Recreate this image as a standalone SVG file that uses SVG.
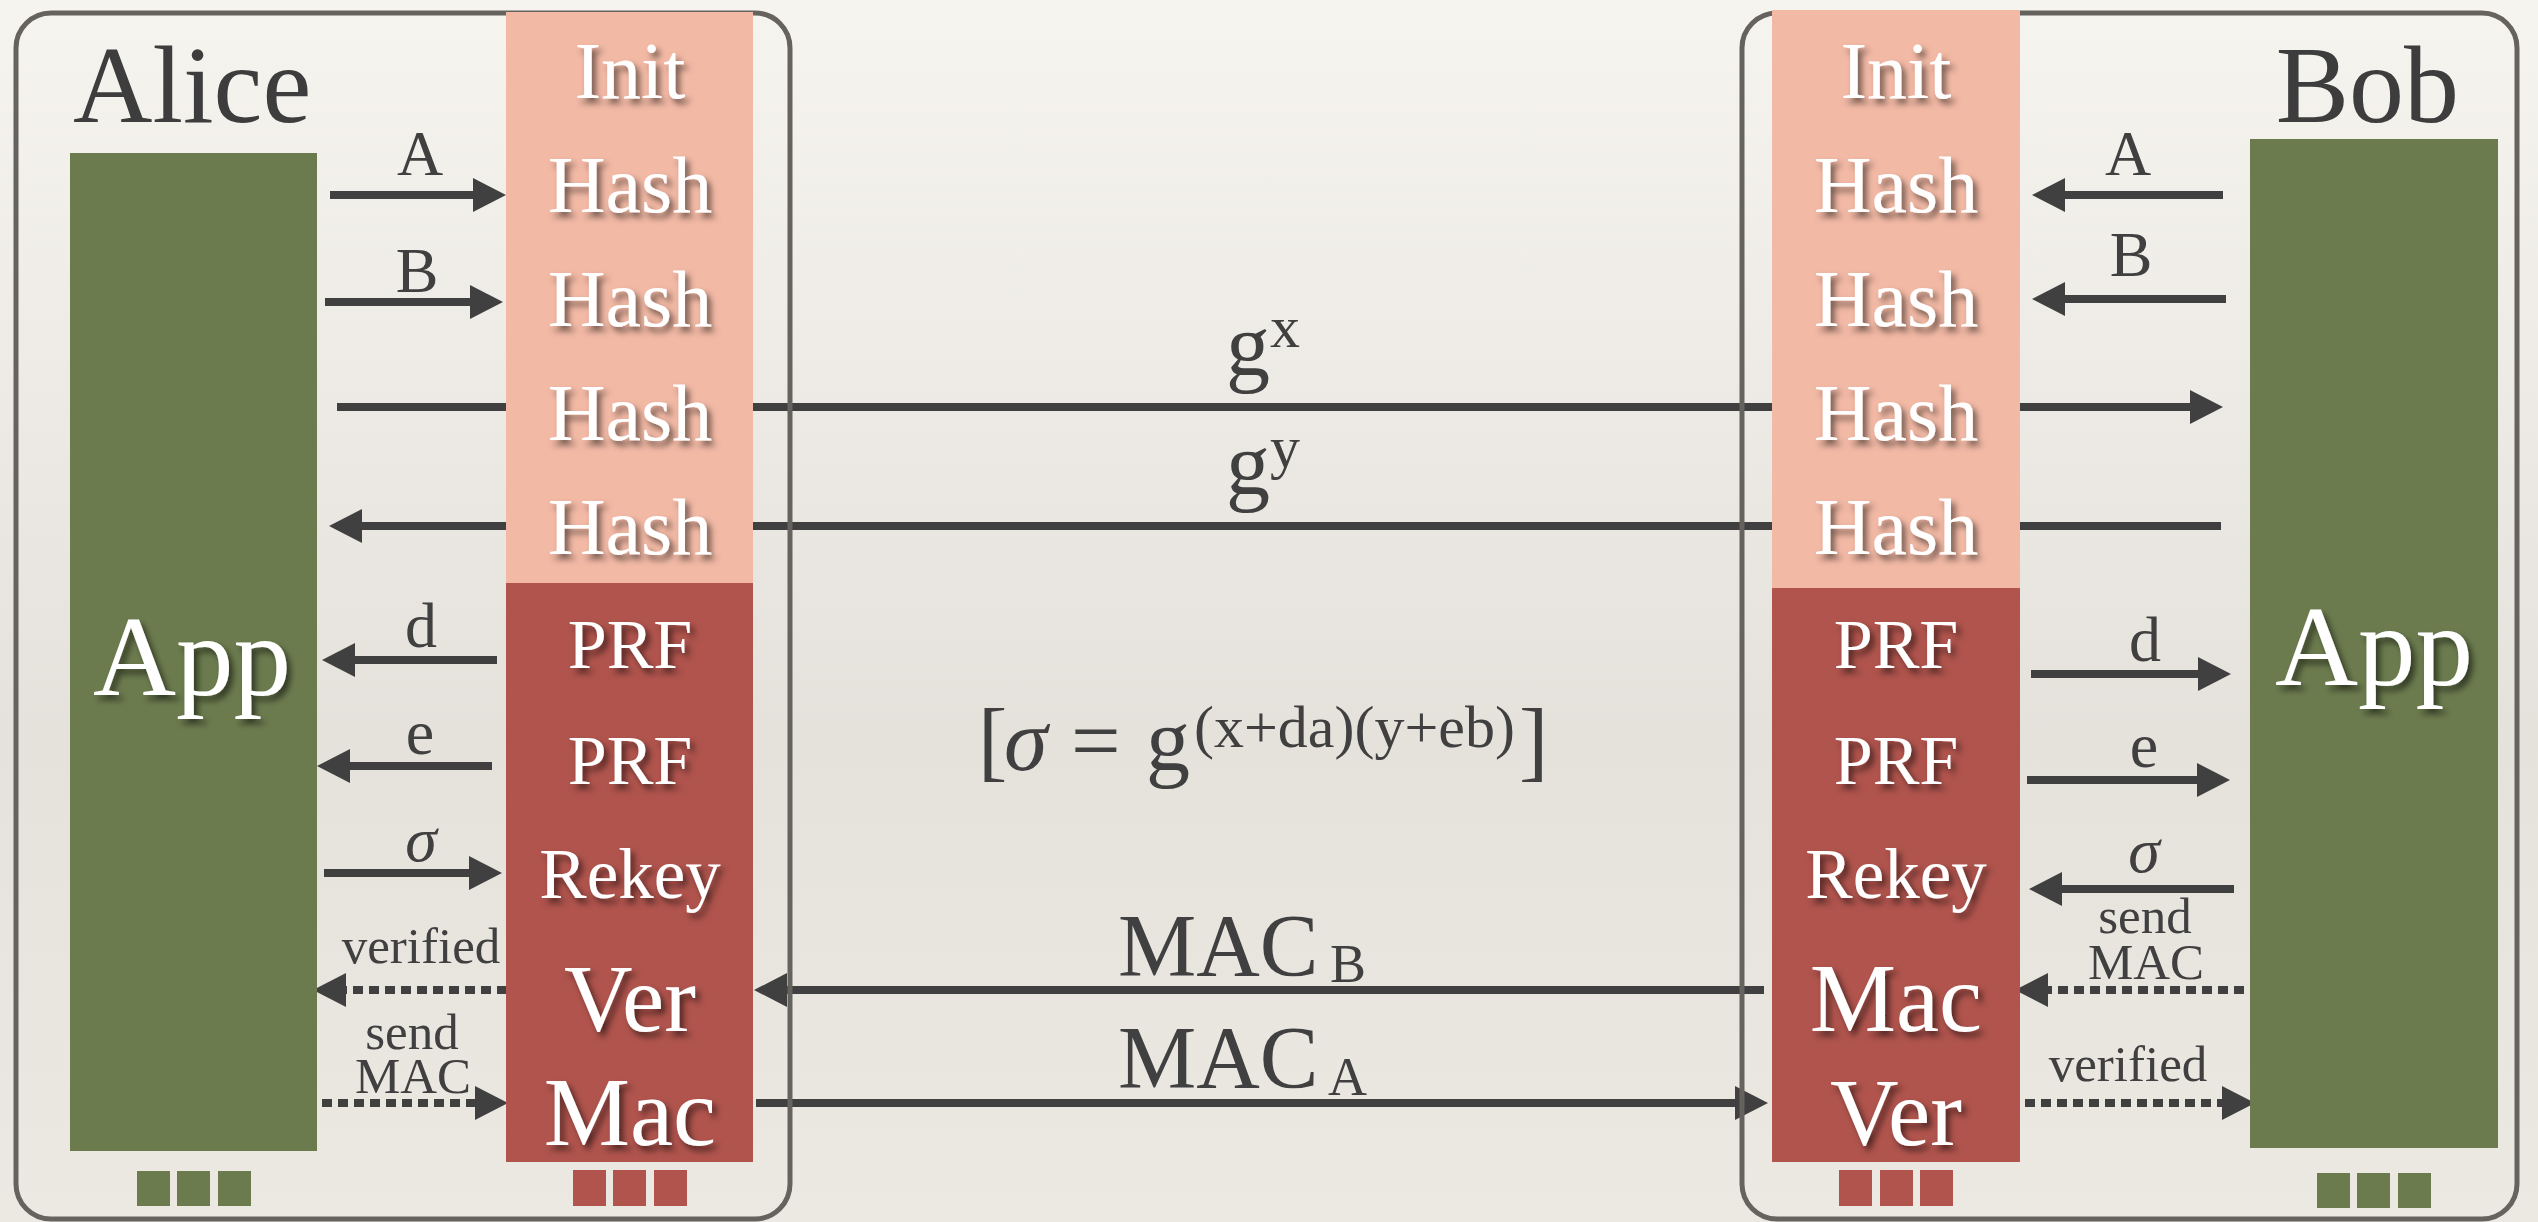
<svg xmlns="http://www.w3.org/2000/svg" width="2538" height="1222" viewBox="0 0 2538 1222" font-family="'Liberation Serif', 'DejaVu Serif', serif">
<defs>
<linearGradient id="bg" x1="0" y1="0" x2="0" y2="1">
<stop offset="0" stop-color="#f6f4ef"/>
<stop offset="0.6" stop-color="#e5e2dc"/>
<stop offset="1" stop-color="#ece9e3"/>
</linearGradient>
<filter id="sh" x="-20%" y="-20%" width="150%" height="150%">
<feDropShadow dx="4" dy="5" stdDeviation="3" flood-color="#000" flood-opacity="0.55"/>
</filter>
<marker id="ah" markerUnits="userSpaceOnUse" markerWidth="34" markerHeight="34" viewBox="0 0 34 34" refX="17" refY="17" orient="auto">
<path d="M0,0 L33,17 L0,34 Z" fill="#404040"/>
</marker>
<style>
.ln{stroke:#404040;stroke-width:8;fill:none;marker-end:url(#ah)}
.dt{stroke:#404040;stroke-width:8;fill:none;stroke-dasharray:10 6;marker-end:url(#ah)}
.frame{fill:none;stroke:#66635e;stroke-width:5}
.pink{fill:#f2b9a5}
.red{fill:#b0544d}
.green{fill:#6b7b4e}
.wt{fill:#ffffff;text-anchor:middle;filter:url(#sh)}
.lbl{fill:#404040;text-anchor:middle;font-size:64px}
.sm{fill:#404040;text-anchor:middle;font-size:51px}
.math{fill:#404040;font-size:88px}
.title{fill:#3d3d3d;font-size:110px}
</style>
</defs>
<rect x="0" y="0" width="2538" height="1222" fill="url(#bg)"/>

<g id="connectors">
<line class="ln" x1="330" y1="195" x2="490" y2="195"/>
<line class="ln" x1="325" y1="302" x2="487" y2="302"/>
<line class="ln" x1="497" y1="660" x2="338" y2="660"/>
<line class="ln" x1="492" y1="766" x2="333" y2="766"/>
<line class="ln" x1="324" y1="873" x2="486" y2="873"/>
<line class="dt" x1="507" y1="990" x2="329" y2="990"/>
<line class="dt" x1="322" y1="1103" x2="492" y2="1103"/>
<line class="ln" x1="337" y1="407" x2="2207" y2="407"/>
<line class="ln" x1="2221" y1="526" x2="345" y2="526"/>
<line class="ln" x1="1764" y1="990" x2="770" y2="990"/>
<line class="ln" x1="756" y1="1103" x2="1752" y2="1103"/>
<line class="ln" x1="2223" y1="195" x2="2048" y2="195"/>
<line class="ln" x1="2226" y1="299" x2="2048" y2="299"/>
<line class="ln" x1="2031" y1="674" x2="2215" y2="674"/>
<line class="ln" x1="2027" y1="780" x2="2214" y2="780"/>
<line class="ln" x1="2234" y1="889" x2="2045" y2="889"/>
<line class="dt" x1="2244" y1="990" x2="2031" y2="990"/>
<line class="dt" x1="2025" y1="1103" x2="2239" y2="1103"/>
</g>

<g id="connector-labels">
<text class="lbl" x="420" y="175">A</text>
<text class="lbl" x="417" y="292">B</text>
<text class="lbl" x="421" y="647">d</text>
<text class="lbl" x="420" y="754">e</text>
<text class="lbl" x="421" y="861" font-style="italic" font-size="70">σ</text>
<text class="sm" x="421" y="963">verified</text>
<text class="sm" x="412" y="1049">send</text>
<text class="sm" x="413" y="1093">MAC</text>
<text class="lbl" x="2128" y="175">A</text>
<text class="lbl" x="2131" y="276">B</text>
<text class="lbl" x="2145" y="661">d</text>
<text class="lbl" x="2144" y="767">e</text>
<text class="lbl" x="2144" y="872" font-style="italic" font-size="70">σ</text>
<text class="sm" x="2145" y="933">send</text>
<text class="sm" x="2146" y="979">MAC</text>
<text class="sm" x="2128" y="1081">verified</text>
<text class="math" x="1226" y="375">g<tspan font-size="60" dy="-28">x</tspan></text>
<text class="math" x="1226" y="494">g<tspan font-size="60" dy="-27">y</tspan></text>
<text class="math" x="1118" y="975" font-size="91">MAC<tspan x="1330" y="982" font-size="54">B</tspan></text>
<text class="math" x="1118" y="1087" font-size="91">MAC<tspan x="1328" y="1095" font-size="54">A</tspan></text>
<text class="math" y="770" font-size="90"><tspan x="978">[</tspan><tspan x="1004" font-style="italic">σ</tspan><tspan x="1071">=</tspan><tspan x="1146">g</tspan><tspan x="1194" y="747" font-size="60">(x+da)(y+eb)</tspan><tspan x="1519" y="770">]</tspan></text>
</g>

<g id="alice">
<rect class="frame" x="16" y="13" width="774" height="1206" rx="35"/>
<text class="title" x="73" y="122">Alice</text>
</g>
<g id="bob">
<rect class="frame" x="1742" y="13" width="775" height="1206" rx="35"/>
<text class="title" x="2459" y="122" text-anchor="end" font-size="108">Bob</text>
</g>

<g id="alice-app">
<rect class="green" x="70" y="153" width="247" height="998"/>
<text class="wt" x="192" y="695" font-size="115">App</text>
<rect class="green" x="137" y="1171" width="33" height="35"/>
<rect class="green" x="177" y="1171" width="33" height="35"/>
<rect class="green" x="218" y="1171" width="33" height="35"/>
</g>

<g id="alice-stack">
<rect class="pink" x="506" y="12" width="247" height="571"/>
<rect class="red" x="506" y="583" width="247" height="579"/>
<text class="wt" x="630" y="98" font-size="80">Init</text>
<text class="wt" x="630" y="212" font-size="80">Hash</text>
<text class="wt" x="630" y="326" font-size="80">Hash</text>
<text class="wt" x="630" y="440" font-size="80">Hash</text>
<text class="wt" x="630" y="554" font-size="80">Hash</text>
<text class="wt" x="630" y="668" font-size="70">PRF</text>
<text class="wt" x="630" y="784" font-size="70">PRF</text>
<text class="wt" x="630" y="898" font-size="71">Rekey</text>
<text class="wt" x="630" y="1031" font-size="95">Ver</text>
<text class="wt" x="630" y="1145" font-size="97">Mac</text>
<rect class="red" x="573" y="1170" width="33" height="36"/>
<rect class="red" x="613" y="1170" width="33" height="36"/>
<rect class="red" x="654" y="1170" width="33" height="36"/>
</g>

<g id="bob-stack">
<rect class="pink" x="1772" y="10" width="248" height="578"/>
<rect class="red" x="1772" y="588" width="248" height="574"/>
<text class="wt" x="1896" y="98" font-size="80">Init</text>
<text class="wt" x="1896" y="212" font-size="80">Hash</text>
<text class="wt" x="1896" y="326" font-size="80">Hash</text>
<text class="wt" x="1896" y="440" font-size="80">Hash</text>
<text class="wt" x="1896" y="554" font-size="80">Hash</text>
<text class="wt" x="1896" y="668" font-size="70">PRF</text>
<text class="wt" x="1896" y="784" font-size="70">PRF</text>
<text class="wt" x="1896" y="898" font-size="71">Rekey</text>
<text class="wt" x="1896" y="1031" font-size="97">Mac</text>
<text class="wt" x="1896" y="1145" font-size="95">Ver</text>
<rect class="red" x="1839" y="1170" width="33" height="36"/>
<rect class="red" x="1880" y="1170" width="33" height="36"/>
<rect class="red" x="1920" y="1170" width="33" height="36"/>
</g>

<g id="bob-app">
<rect class="green" x="2250" y="139" width="248" height="1009"/>
<text class="wt" x="2374" y="685" font-size="115">App</text>
<rect class="green" x="2317" y="1173" width="33" height="35"/>
<rect class="green" x="2357" y="1173" width="33" height="35"/>
<rect class="green" x="2398" y="1173" width="33" height="35"/>
</g>
</svg>
